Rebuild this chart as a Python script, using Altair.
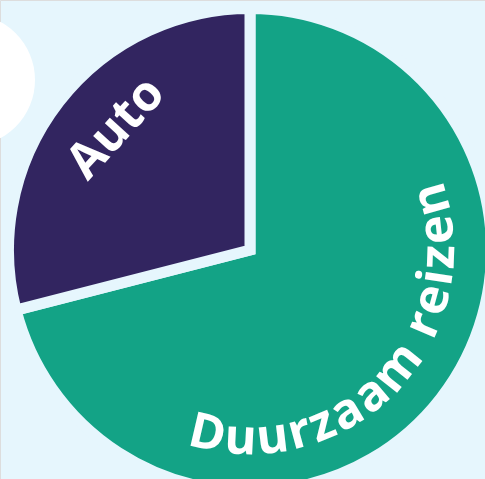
import math
import altair as alt
import pandas as pd

# ---- data ----
categories = ["Duurzaam reizen", "Auto"]
shares = [71, 29]
slice_order = [0, 1]
colors = ["#13a386", "#322560"]
BG = "#e6f6fd"

# label placement (degrees clockwise from 12 o'clock, radius in px)
curved_label = categories[0]
curved_mid_angle = 134.0
curved_radius = 204.0
auto_label = categories[1]
auto_angle = 312.3
auto_radius = 181.0
FONT_SIZE = 49
LETTER_SPACING = 3.6

# approximate advance widths (em) of Open Sans Bold
char_em = {"D": 0.70, "u": 0.63, "r": 0.44, "z": 0.48, "a": 0.59, "m": 0.94,
           " ": 0.26, "e": 0.58, "i": 0.28, "n": 0.63}

# ---- build tables ----
pie_df = pd.DataFrame({"cat": categories, "share": shares, "order": slice_order})

chars = list(curved_label)
adv = [char_em.get(c, 0.6) * FONT_SIZE for c in chars]
total = sum(adv) + LETTER_SPACING * (len(chars) - 1)
rows = []
cum = 0.0
for i, (c, a) in enumerate(zip(chars, adv)):
    center = cum + a / 2
    theta = curved_mid_angle + (total / 2 - center) / curved_radius * 180 / math.pi
    rows.append({"ch": c, "pos": theta, "r": curved_radius, "rot": (theta - 180) % 360})
    cum += a + LETTER_SPACING
curve_df = pd.DataFrame(rows)

auto_df = pd.DataFrame({"txt": [auto_label], "pos": [auto_angle], "r": [auto_radius],
                        "rot": [auto_angle % 360]})

deco_df = pd.DataFrame({"k": [1]})

theta_deg = alt.Scale(domain=[0, 360], range=[0, 2 * math.pi])
rad_px = alt.Scale(type="linear", domain=[0, 250], range=[0, 250])

# decorative white disc (radius 66 px); Vega circle symbol: diameter = sqrt(size)
circle = alt.Chart(deco_df).mark_circle(color="#ffffff", opacity=1, size=(2 * 66) ** 2).encode(
    x=alt.value(-31), y=alt.value(80)
)

pie = alt.Chart(pie_df).mark_arc(outerRadius=241.5, stroke=BG, strokeWidth=11).encode(
    theta=alt.Theta("share:Q", stack=True),
    color=alt.Color("cat:N", scale=alt.Scale(domain=categories, range=colors), legend=None),
    order=alt.Order("order:Q"),
    x=alt.value(250),
    y=alt.value(250),
)

text_style = dict(font="Open Sans", fontWeight="bold", fontSize=FONT_SIZE, color="white", align="center")

curve_text = alt.Chart(curve_df).mark_text(baseline="alphabetic", **text_style).encode(
    theta=alt.Theta("pos:Q", scale=theta_deg, stack=False),
    radius=alt.Radius("r:Q", scale=rad_px),
    angle=alt.Angle("rot:Q", scale=None),
    text="ch:N",
    x=alt.value(250),
    y=alt.value(250),
)

auto_text = alt.Chart(auto_df).mark_text(baseline="middle", **text_style).encode(
    theta=alt.Theta("pos:Q", scale=theta_deg, stack=False),
    radius=alt.Radius("r:Q", scale=rad_px),
    angle=alt.Angle("rot:Q", scale=None),
    text="txt:N",
    x=alt.value(250),
    y=alt.value(250),
)

chart = alt.layer(circle, pie, auto_text, curve_text).resolve_scale(
    theta="independent", radius="independent"
).properties(
    width=485, height=479, padding=0,
    autosize=alt.AutoSizeParams(type="none"),
).configure_view(strokeWidth=0).configure(background=BG)

chart.save("out.html", embed_options={"renderer": "svg", "actions": False})
